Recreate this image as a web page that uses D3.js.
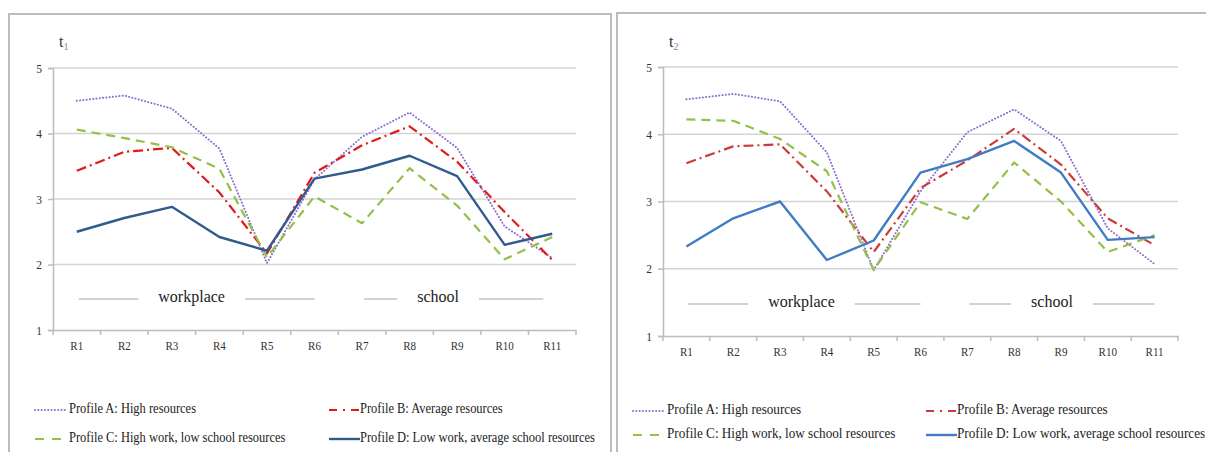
<!DOCTYPE html>
<html><head><meta charset="utf-8">
<script src="https://cdn.jsdelivr.net/npm/d3@7"></script>
<style>body{margin:0;background:#fff}svg{display:block}</style>
</head><body>
<svg id="c" width="1206" height="452"></svg>
<script>
const categories = ["R1","R2","R3","R4","R5","R6","R7","R8","R9","R10","R11"];
const yTicks = [1,2,3,4,5];
const seriesNames = ["Profile A: High resources","Profile B: Average resources","Profile C: High work, low school resources","Profile D: Low work, average school resources"];
// t1
const t1A = [4.50,4.58,4.38,3.77,2.02,3.30,3.95,4.32,3.78,2.58,2.10];
const t1B = [3.43,3.72,3.78,3.10,2.17,3.40,3.82,4.11,3.57,2.80,2.07];
const t1C = [4.06,3.93,3.79,3.46,2.11,3.04,2.63,3.47,2.90,2.08,2.42];
const t1D = [2.50,2.71,2.88,2.42,2.21,3.31,3.45,3.66,3.35,2.30,2.47];
// t2
const t2A = [4.52,4.60,4.49,3.73,1.98,3.15,4.03,4.37,3.90,2.60,2.07];
const t2B = [3.57,3.82,3.85,3.15,2.25,3.20,3.61,4.08,3.55,2.75,2.35];
const t2C = [4.22,4.20,3.93,3.45,1.98,2.99,2.74,3.58,3.00,2.25,2.50];
const t2D = [2.33,2.75,3.00,2.13,2.42,3.43,3.63,3.90,3.43,2.43,2.47];
const regionLabels = ["workplace","school"];

const svg = d3.select("#c");
const SERIF = '"Liberation Serif", "Times New Roman", serif';

function squash(sel, k){
  sel.each(function(){
    const w = this.getComputedTextLength();
    d3.select(this).attr("textLength", w*k).attr("lengthAdjust","spacingAndGlyphs");
  });
}

function panel(cfg){
  const g = svg.append("g");
  g.append("rect").attr("x",cfg.frame[0]).attr("y",cfg.frame[1]).attr("width",cfg.frame[2]).attr("height",cfg.frame[3])
    .attr("fill","#fff").attr("stroke","#bcbcbc").attr("stroke-width",2);
  const x = d3.scaleBand().domain(categories).range([cfg.x0,cfg.x1]);
  const y = d3.scaleLinear().domain([1,5]).range([cfg.y1,cfg.y0]);
  g.append("g").selectAll("line").data(yTicks.filter(d=>d>1)).join("line")
    .attr("x1",cfg.x0).attr("x2",cfg.x1).attr("y1",d=>y(d)).attr("y2",d=>y(d))
    .attr("stroke","#d4d4d4").attr("stroke-width",1.5);
  const ya = g.append("g").attr("transform",`translate(${cfg.x0},0)`).call(d3.axisLeft(y).tickValues(yTicks).tickSize(5).tickPadding(6).tickFormat(d3.format("d")));
  ya.select(".domain").attr("stroke","#bcbcbc").attr("stroke-width",1.5);
  ya.selectAll(".tick line").attr("stroke","#bcbcbc").attr("stroke-width",1.5);
  ya.selectAll("text").style("font-family",SERIF).style("font-size","13px").attr("fill","#333");
  squash(ya.selectAll("text"),0.88);
  const xa = g.append("g").attr("transform",`translate(0,${cfg.y1})`).call(d3.axisBottom(x).tickSize(0).tickPadding(11));
  xa.select(".domain").attr("stroke","#bcbcbc").attr("stroke-width",1.5);
  xa.selectAll("text").style("font-family",SERIF).style("font-size","13px").attr("fill","#333");
  squash(xa.selectAll("text"),0.85);
  const bounds = categories.map(c=>x(c)).concat([cfg.x1]);
  g.append("g").selectAll("line").data(bounds).join("line")
    .attr("x1",d=>d).attr("x2",d=>d).attr("y1",cfg.y1).attr("y2",cfg.y1+5)
    .attr("stroke","#bcbcbc").attr("stroke-width",1.5);
  const t = g.append("text").attr("x",cfg.titleX).attr("y",cfg.titleY).style("font-family",SERIF).style("font-size","16px").attr("fill","#333");
  t.append("tspan").text("t");
  t.append("tspan").style("font-size","10px").attr("dy",3).attr("fill","#6a8fb8").text(cfg.sub);
  const cx = c => x(c)+x.bandwidth()/2;
  cfg.regions.forEach((r,i)=>{
    const a = cx(r.from), b = cx(r.to);
    const tx = (a+b)/2 + r.dx;
    const txt = g.append("text").attr("x",tx).attr("y",cfg.regionY).attr("text-anchor","middle")
      .attr("dominant-baseline","middle").style("font-family",SERIF).style("font-size","16px").attr("fill","#222").text(regionLabels[i]);
    const w = txt.node().getComputedTextLength();
    g.append("line").attr("x1",a+2).attr("x2",tx-w/2-20).attr("y1",cfg.regionY+1).attr("y2",cfg.regionY+1).attr("stroke","#a6a6a6").attr("stroke-width",1.2);
    g.append("line").attr("x1",tx+w/2+20).attr("x2",b-r.trim).attr("y1",cfg.regionY+1).attr("y2",cfg.regionY+1).attr("stroke","#a6a6a6").attr("stroke-width",1.2);
  });
  const line = d3.line().x((d,i)=>cx(categories[i])).y(d=>y(d));
  cfg.series.forEach(s=>{
    g.append("path").datum(s.values).attr("d",line).attr("fill","none")
      .attr("stroke",s.color).attr("stroke-width",s.w).attr("stroke-dasharray",s.dash)
      .attr("stroke-linecap",s.cap).attr("stroke-linejoin","round");
  });
  cfg.series.forEach((s,i)=>{
    const lx = cfg.legX[i%2], ly = cfg.legY[Math.floor(i/2)];
    g.append("line").attr("x1",lx).attr("x2",lx+s.legW).attr("y1",ly).attr("y2",ly)
      .attr("stroke",s.color).attr("stroke-width",s.w).attr("stroke-dasharray",s.legDash||s.dash).attr("stroke-linecap",s.cap);
    const lt = g.append("text").attr("x",lx+cfg.legTx[i%2]).attr("y",ly).attr("dominant-baseline","middle")
      .style("font-family",SERIF).style("font-size","14px").attr("fill","#222").text(seriesNames[i]);
    squash(lt, cfg.legK);
  });
}

const styleA = {dash:"0.1,3.2",w:2,cap:"round",legW:30};
const styleB = {dash:"10,4,2,4",w:2.2,cap:"butt",legW:31,legDash:"8,6,2,6"};
const styleC = {dash:"9,6",w:2.2,cap:"butt",legW:26,legDash:"9,8"};
const styleD = {dash:null,w:2.4,cap:"butt",legW:31};

panel({frame:[9,14,602,460], x0:53, x1:576, y0:68, y1:330, titleX:59, titleY:47, sub:"1",
  regionY:298, regions:[{from:"R1",to:"R6",dx:-4,trim:0},{from:"R7",to:"R11",dx:-19,trim:9}],
  legX:[35,329], legTx:[34,31], legY:[410,439], legK:0.89,
  series:[
    Object.assign({values:t1A,color:"#8d6fcf"},styleA),
    Object.assign({values:t1B,color:"#e01b1b"},styleB),
    Object.assign({values:t1C,color:"#93c047"},styleC),
    Object.assign({values:t1D,color:"#2f5b8f"},styleD)
  ]});

panel({frame:[617,13,600,460], x0:663, x1:1178, y0:67, y1:336, titleX:669, titleY:47, sub:"2",
  regionY:303, regions:[{from:"R1",to:"R6",dx:-2,trim:0},{from:"R7",to:"R11",dx:-9,trim:0}],
  legX:[633,926], legTx:[34,31], legY:[411,435], legK:0.94,
  series:[
    Object.assign({values:t2A,color:"#8d6fcf"},styleA),
    Object.assign({values:t2B,color:"#cc3b3b"},styleB),
    Object.assign({values:t2C,color:"#93c047"},styleC),
    Object.assign({values:t2D,color:"#3f7cc4"},styleD)
  ]});
</script>
</body></html>
